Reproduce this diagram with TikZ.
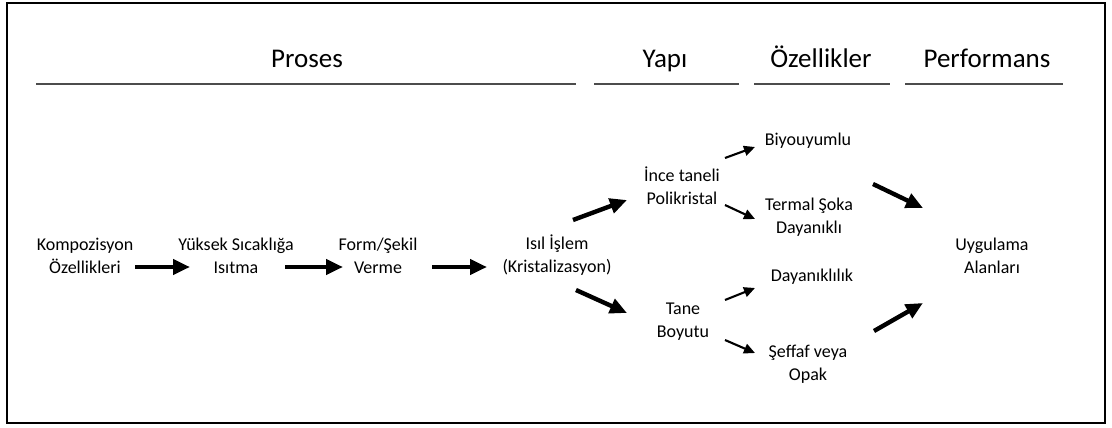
\documentclass[tikz,border=0pt]{standalone}
\usepackage{fontspec}
\setmainfont{Carlito}
\usetikzlibrary{arrows.meta, positioning}

\begin{document}
\begin{tikzpicture}[x=1pt, y=-1pt,
    lbl/.style={align=center, inner sep=1pt, font=\fontsize{18}{23}\selectfont},
    head/.style={anchor=base, inner sep=0pt, font=\fontsize{27}{32}\selectfont},
    rule/.style={line width=1.3pt, gray!60!black},
    big/.style={line width=4.4pt, -{Triangle[length=17pt, width=15pt]}},
    small/.style={line width=2.1pt, -{Triangle[length=11pt, width=10pt]}}]
    \useasboundingbox (0,0) rectangle (1112,428);
    \draw[line width=1.6pt] (7,3) rectangle (1105,423);
    % basliklar
    \node[head] (proses) at (307,68) {Proses};
    \node[head] (yapi) at (665,68) {Yapı};
    \node[head] (ozel) at (821,68) {Özellikler};
    \node[head] (perf) at (987,68) {Performans};
    \draw[rule] (36,84) -- (576,84);
    \draw[rule] (594,84) -- (739,84);
    \draw[rule] (754,84) -- (890,84);
    \draw[rule] (905,84) -- (1063,84);
    % proses adimlari
    \node[lbl] (komp) at (85,256) {Kompozisyon\\Özellikleri};
    \node[lbl] (yuk) at (236,256) {Yüksek Sıcaklığa\\Isıtma};
    \node[lbl] (form) at (378,256) {Form/Şekil\\Verme};
    \node[lbl] (isil) at (557,255) {Isıl İşlem\\(Kristalizasyon)};
    % yapi ve ozellikler
    \node[lbl] (ince) at (682,186) {İnce taneli\\Polikristal};
    \node[lbl] (tane) at (683,322) {Tane\\Boyutu};
    \node[lbl] (biyo) at (808,141) {Biyouyumlu};
    \node[lbl] (termal) at (809,217) {Termal Şoka\\Dayanıklı};
    \node[lbl] (dayan) at (812,277) {Dayanıklılık};
    \node[lbl] (seffaf) at (808,364) {Şeffaf veya\\Opak};
    \node[lbl] (uyg) at (992,256) {Uygulama\\Alanları};
    % oklar
    \draw[big] ([shift={(50,11)}]komp.center) -- ([shift={(-46,11)}]yuk.center);
    \draw[big] ([shift={(49,11)}]yuk.center) -- ([shift={(-35,11)}]form.center);
    \draw[big] ([shift={(54,11)}]form.center) -- ([shift={(-70,12)}]isil.center);
    \draw[big] ([shift={(16,-35)}]isil.center) -- ([shift={(-55,14)}]ince.center);
    \draw[big] ([shift={(19,35)}]isil.center) -- ([shift={(-56,-9)}]tane.center);
    \draw[small] ([shift={(43,-28)}]ince.center) -- ([shift={(-53,6)}]biyo.center);
    \draw[small] ([shift={(43,19)}]ince.center) -- ([shift={(-54,2)}]termal.center);
    \draw[small] ([shift={(42,-22)}]tane.center) -- ([shift={(-57,11)}]dayan.center);
    \draw[small] ([shift={(42,18)}]tane.center) -- ([shift={(-53,-11)}]seffaf.center);
    \draw[big] ([shift={(64,-33)}]termal.center) -- ([shift={(-69,-48)}]uyg.center);
    \draw[big] ([shift={(66,-33)}]seffaf.center) -- ([shift={(-69,47)}]uyg.center);
\end{tikzpicture}
\end{document}
